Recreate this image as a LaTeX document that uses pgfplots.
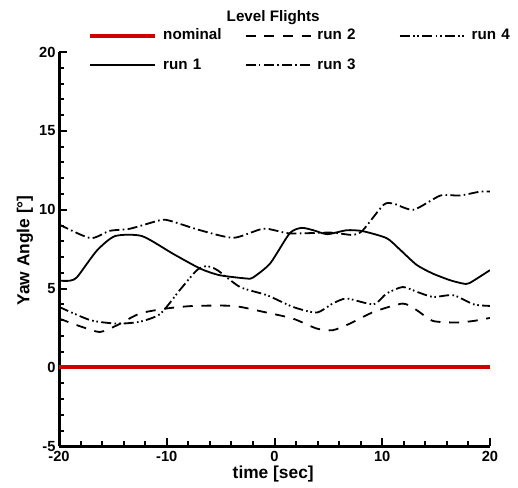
\documentclass[border=0pt]{standalone}
\usepackage{pgfplots}
\pgfplotsset{compat=1.18}
\usepackage{fontspec}
\setmainfont{Liberation Sans}
\definecolor{nomred}{RGB}{208,0,0}
\begin{document}
\begin{tikzpicture}
\useasboundingbox (-44.25pt,-30.75pt) rectangle (344pt,334.5pt);
\begin{axis}[
  at={(0pt,0pt)}, anchor=south west,
  scale only axis,
  width=323pt, height=295.5pt,
  xmin=-20, xmax=20, ymin=-5, ymax=20,
  axis x line=bottom, axis y line=left,
  axis line style={-, line width=2.2pt},
  tick align=inside,
  xtick={-20,-10,0,10,20}, ytick={-5,0,5,10,15,20},
  minor x tick num=4, minor y tick num=4,
  major tick length=6pt, minor tick length=3.8pt,
  every tick/.style={black, line width=1.5pt},
  /pgf/number format/assume math mode=true,
  ticklabel style={font=\bfseries\fontsize{11}{13}\selectfont},
  xticklabel style={anchor=base, yshift=-11.75pt, inner sep=0pt},
  yticklabel style={inner sep=0pt, xshift=-2.5pt},
  xlabel={time [sec]}, ylabel={Yaw Angle [°]},
  label style={font=\bfseries\fontsize{13}{15}\selectfont},
  xlabel style={at={(axis description cs:0.497,0)}, anchor=base, yshift=-24pt},
  ylabel style={at={(axis description cs:-0.0789,0.497)}, anchor=center},
  title={Level Flights},
  title style={font=\bfseries\fontsize{11.4}{13}\selectfont, at={(0.497,1)}, anchor=base, yshift=17.25pt},
  legend columns=3,
  legend style={draw=none, fill=none, at={(0.067,1.06)}, anchor=north west,
    font=\bfseries\fontsize{11.4}{13}\selectfont, inner sep=0pt,
    nodes={inner sep=0pt, text height=8.5pt, text depth=2pt},
    row sep=11.75pt,
    /tikz/every odd column/.append style={column sep=4.5pt},
    /tikz/every even column/.append style={text width=61pt}},
  legend image code/.code={\draw[#1] (0pt,0pt) -- (48.75pt,0pt);},
]
\addplot[nomred, line width=3pt] coordinates {(-20,0) (20,0)};
\addlegendentry{nominal}
% run 2
\addplot[black, line width=1.35pt, dash pattern=on 7.5pt off 6.5pt, smooth, tension=0.4] coordinates {
(-20,3.1) (-18,2.6) (-16.2,2.25) (-14.6,2.68) (-12.5,3.42) (-10,3.74) (-7.5,3.9) (-3.8,3.9) (-1,3.52) (1.7,3.1) (3.9,2.47) (5.4,2.36) (7.0,2.78) (9.2,3.52) (11.9,4.05) (13.2,3.63) (14.7,2.95) (16.9,2.85) (18.5,2.95) (20,3.14)};
\addlegendentry{run 2}
% run 4
\addplot[black, line width=1.35pt, dash pattern=on 7.5pt off 2.5pt on 1.2pt off 2pt on 1.2pt off 2.5pt, smooth, tension=0.4] coordinates {
(-20,3.84) (-17.1,3.0) (-14.6,2.78) (-12.5,2.9) (-10.6,3.4) (-8.8,4.9) (-7.2,6.17) (-6.3,6.42) (-5.3,6.17) (-3.2,5.1) (-0.7,4.58) (1.7,3.84) (3.9,3.48) (5.4,4.05) (6.7,4.37) (9.2,4.0) (10.4,4.69) (11.9,5.1) (13.2,4.8) (14.7,4.47) (16.6,4.58) (18.5,4.0) (20,3.9)};
\addlegendentry{run 4}
% run 1
\addplot[black, line width=1.35pt, smooth, tension=0.4] coordinates {
(-20,5.5) (-19,5.5) (-18.3,5.75) (-16.5,7.4) (-14.8,8.33) (-12.3,8.33) (-9.4,7.2) (-6.9,6.27) (-5.1,5.85) (-2.6,5.64) (-2,5.7) (-0.4,6.6) (1.4,8.5) (2.5,8.85) (3.6,8.7) (4.9,8.45) (6.7,8.7) (8.2,8.64) (10.4,8.2) (11.6,7.5) (13.2,6.5) (14.7,5.95) (16.3,5.53) (17.5,5.32) (18.1,5.35) (20,6.17)};
\addlegendentry{run 1}
% run 3
\addplot[black, line width=1.35pt, dash pattern=on 7.5pt off 2.5pt on 1.2pt off 2.5pt, smooth, tension=0.4] coordinates {
(-20,9.07) (-17.1,8.2) (-15.3,8.66) (-13.4,8.8) (-10.6,9.34) (-9.7,9.3) (-6.9,8.7) (-3.8,8.22) (-1.0,8.8) (1.4,8.5) (5.2,8.55) (7.3,8.4) (8.2,8.7) (10.1,10.3) (11,10.4) (12.9,10.0) (15.4,10.9) (17.2,10.9) (19.1,11.15) (20,11.15)};
\addlegendentry{run 3}
\end{axis}
\end{tikzpicture}
\end{document}
